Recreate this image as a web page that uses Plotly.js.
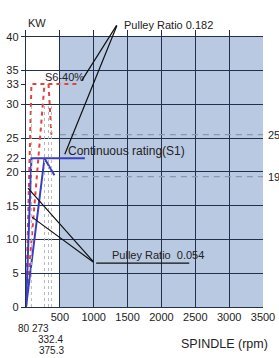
<!DOCTYPE html>
<html><head><meta charset="utf-8">
<script src="https://cdn.plot.ly/plotly-3.0.1.min.js"></script>
<style>html,body{margin:0;padding:0;background:#fff}#chart{width:279px;height:358px}</style>
</head><body><div id="chart"></div>
<script>
// ---- data ----
const xTickVals = [500, 1000, 1500, 2000, 2500, 3000, 3500];
const yTickVals = [0, 5, 10, 15, 20, 25, 30, 35, 40];
const yExtraTicks = [22, 33];
const speedMarks = [80, 273, 332.4, 375.3];
const speedLabels = ['80', '273', '332.4', '375.3'];

// S6-40% (red dashed)
const s6LowX = [0, 80, 800];
const s6LowY = [0, 33, 33];
const s6HighX = [0, 273];
const s6HighY = [0, 33];
const s6DropX = [332.4, 375.3];
const s6DropY = [33, 25.5];

// Continuous rating S1 (blue)
const s1LowX = [0, 80, 870];
const s1LowY = [0, 22, 22];
const s1HighX = [0, 273, 420];
const s1HighY = [0, 22, 19.5];

// reference levels (grey dashed) and right-side labels
const refLevels = [25.5, 19.3];
const refLabels = ['25', '19'];
const refStartX = 500, refEndX = 3500;

const ink = '#22304f';
const red = '#e5423b';
const blue = '#3a3fc2';

const traces = [];
// grey dotted speed marks
speedMarks.forEach(s => traces.push({x: [s, s], y: [0, 30], mode: 'lines', yaxis: 'y2',
  line: {color: '#b8b8b8', width: 1, dash: 'dot'}, hoverinfo: 'skip', showlegend: false}));
// reference dashed levels
refLevels.forEach(v => traces.push({x: [refStartX, refEndX], y: [v, v], mode: 'lines',
  line: {color: '#8c97ab', width: 1.2, dash: '6px,5px'}, hoverinfo: 'skip', showlegend: false}));
[[s6LowX, s6LowY], [s6HighX, s6HighY], [s6DropX, s6DropY]].forEach(([x, y]) => traces.push({
  x, y, mode: 'lines', line: {color: red, width: 2, dash: '4px,4px'}, showlegend: false}));
[[s1LowX, s1LowY], [s1HighX, s1HighY]].forEach(([x, y]) => traces.push({
  x, y, mode: 'lines', line: {color: blue, width: 2}, showlegend: false}));

const font = {family: 'Liberation Sans, Arial, sans-serif', size: 11, color: '#222'};
const smallFont = {family: 'Liberation Sans, Arial, sans-serif', size: 10, color: '#222'};
const ann = [];
// speed labels under the axis
const shifts = [[-21, 'right', 0], [-21, 'center', -4], [-32, 'center', 2], [-43, 'center', 0]];
speedMarks.forEach((s, i) => ann.push({x: s, xref: 'x', y: 0, yref: 'paper', text: speedLabels[i],
  showarrow: false, xanchor: shifts[i][1], yanchor: 'middle', yshift: shifts[i][0], xshift: shifts[i][2],
  borderpad: 0, font: smallFont}));
ann.push({x: 0, xref: 'paper', y: 1, yref: 'paper', text: 'KW', showarrow: false, yshift: 15, font});
ann.push({x: 1, xref: 'paper', y: 0, yref: 'paper', text: 'SPINDLE (rpm)', showarrow: false,
  xanchor: 'right', xshift: 7, yshift: -46, font: Object.assign({}, font, {size: 12.5})});
ann.push({x: 573, y: 34.0, text: 'S6-40%', showarrow: false, font});
ann.push({x: 588, y: 23.1, text: 'Continuous rating(S1)', showarrow: false, xanchor: 'left',
  font: Object.assign({}, font, {size: 12})});
ann.push({x: 1235, y: 7.7, text: 'Pulley Ratio  0.054', showarrow: false, xanchor: 'left', font});
ann.push({x: 1411, y: 1, yref: 'paper', text: 'Pulley Ratio 0.182', showarrow: false, xanchor: 'left', yshift: 13, font});
refLevels.forEach((v, i) => ann.push({x: 1, xref: 'paper', y: v, text: refLabels[i], showarrow: false,
  xanchor: 'left', xshift: 3, font}));
// leader lines
const leader = (x0, y0, x1, y1) => ({x: x1, y: y1, ax: x0, ay: y0, axref: 'x', ayref: 'y', text: '',
  showarrow: true, arrowhead: 0, arrowwidth: 1.2, arrowcolor: '#111', standoff: 0, startstandoff: 0});
ann.push(leader(1352, 41.9, 823, 33.5));
ann.push(leader(1352, 41.9, 573, 22.6));
ann.push(leader(1014, 6.5, 29, 17.6));
ann.push(leader(1014, 6.5, 88, 13.3));
ann.push(leader(1014, 6.5, 2411, 6.5));

const layout = {
  width: 279, height: 358,
  margin: {l: 26, r: 16, t: 30, b: 51},
  paper_bgcolor: '#fff', plot_bgcolor: '#fff',
  font,
  showlegend: false,
  xaxis: {range: [0, 3500], tickvals: xTickVals, ticks: '', showgrid: true, gridcolor: ink, gridwidth: 1.2,
    zeroline: false, showline: true, linecolor: ink, linewidth: 1.2, tickfont: font, fixedrange: true},
  yaxis: {range: [0, 41], tickvals: yTickVals, ticks: 'outside', ticklen: 4, tickcolor: ink, showgrid: true,
    gridcolor: ink, gridwidth: 1.2, zeroline: false, showline: true, linecolor: ink, linewidth: 1.2, tickfont: font, fixedrange: true},
  yaxis2: {range: [0, 41], overlaying: 'y', side: 'left', tickvals: yExtraTicks, ticks: 'outside', ticklen: 4,
    tickcolor: ink, showgrid: false, zeroline: false, showline: false, tickfont: font, fixedrange: true},
  shapes: [{type: 'rect', xref: 'x', yref: 'y', x0: 500, x1: 3500, y0: 0, y1: 40,
    fillcolor: '#b9c9e2', line: {width: 0}, layer: 'below'}],
  annotations: ann
};
Plotly.newPlot('chart', traces, layout, {displayModeBar: false, staticPlot: true});
</script></body></html>
